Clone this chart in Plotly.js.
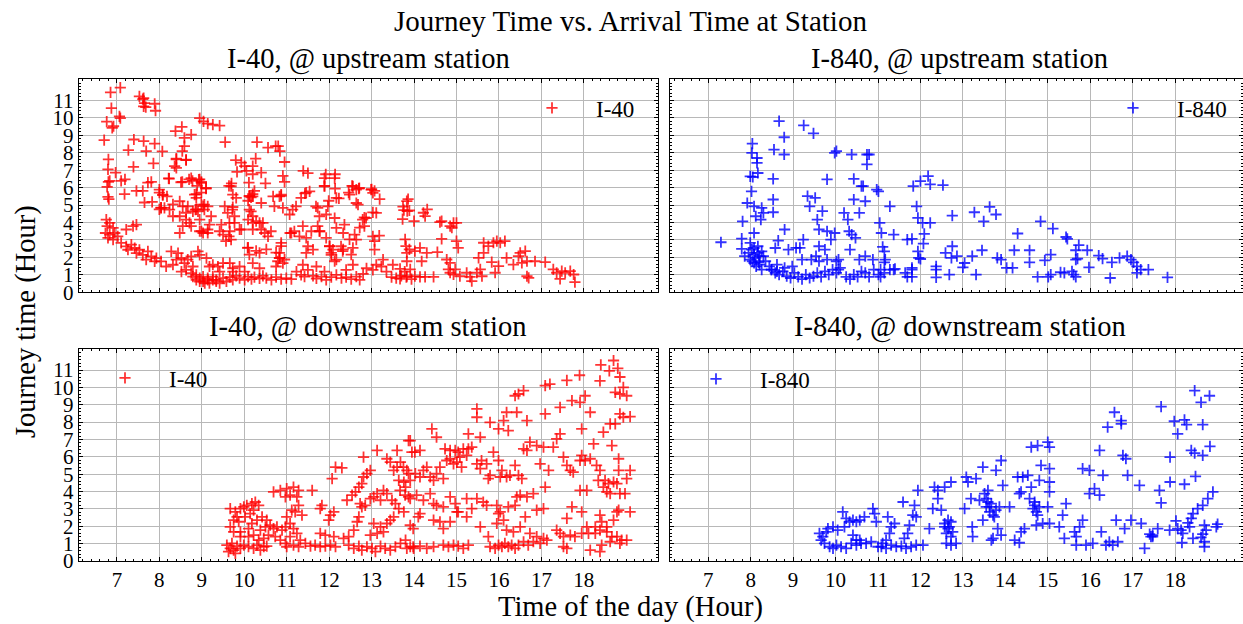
<!DOCTYPE html>
<html>
<head>
<meta charset="utf-8">
<script src="https://cdn.plot.ly/plotly-3.0.1.min.js"></script>
<style>html,body{margin:0;padding:0;background:#fff;}#chart{width:1243px;height:624px;}</style>
</head>
<body>
<div id="chart"></div>
<script>
// ---------- data: [arrival hour, journey hours] ----------
const UP_I40 = [
[7.08,11.74],[6.85,11.46],[6.87,10.56],[6.76,9.79],[6.92,9.52],[6.89,9.43],[7.06,10.09],[7.08,9.99],
[7.53,11.23],[7.61,11.08],[7.65,10.85],[7.63,10.66],[7.68,10.62],[7.89,10.81],[7.91,10.41],[7.63,11.13],
[6.7,8.72],[7.4,8.76],[7.63,8.67],[7.89,8.53],[8.07,8.08],[7.27,8.15],[7.69,8.1],
[6.8,7.62],[6.79,7.05],[6.97,6.86],[7.1,6.39],[7.18,5.63],[7.39,7.19],[7.86,7.39],[7.19,6.48],[6.8,6.33],[6.77,6.05],[6.83,6.39],[6.81,5.34],[6.79,5.47],
[7.46,5.82],[7.61,5.82],[7.73,6.29],[7.81,6.33],[7.65,5.15],[7.83,5.18],[8.0,5.72],[8.08,5.57],[8.04,4.86],
[8.38,9.24],[8.53,9.48],[8.59,8.86],[8.75,9.04],[8.59,8.38],[8.54,8.1],[8.4,7.62],[8.63,7.58],[8.36,7.24],[8.23,6.52],[8.54,6.33],[8.7,6.48],[8.78,6.39],[8.95,6.48],[8.89,6.1],[8.99,6.33],[9.1,5.95],[8.87,5.63],[8.99,5.72],
[8.95,9.99],[9.04,9.8],[9.14,9.67],[9.26,9.61],[9.42,9.56],[9.55,8.61],
[9.8,7.58],[9.93,7.43],[10.01,7.24],[10.05,6.96],[10.2,7.24],[10.27,7.66],[10.3,8.61],
[9.64,6.1],[9.7,6.25],[9.83,6.9],[10.11,6.29],[10.2,6.77],[10.4,6.86],[10.5,6.25],[10.24,5.82],[10.12,5.53],[10.16,5.44],[10.2,5.63],[10.09,5.25],
[10.56,8.29],[10.74,8.38],[10.84,8.1],[10.8,8.38],[10.95,7.47],[10.91,6.67],[10.95,6.33],[10.68,5.5],[10.87,5.53],
[11.39,6.96],[11.5,6.83],[11.43,5.67],[11.46,5.72],[11.92,6.77],[12.14,6.77],[11.89,6.1],[12.14,5.95],[11.99,5.25],[12.23,5.38],[12.54,6.1],[12.7,5.95],[12.46,5.72],[13.0,5.91],[13.07,5.82],[13.19,5.34],[13.74,4.91],[13.86,5.34],
[13.83,5.23],[13.76,4.71],[13.84,4.65],[13.89,4.69],[14.0,4.08],[14.22,4.56],[14.26,4.37],[14.31,4.75],[14.61,4.02],[14.65,4.08],[14.85,3.79],[14.93,3.98],[15.0,3.98],[14.89,3.7],[14.65,3.06],[15.0,2.93],[15.04,2.55],
[13.79,3.03],[13.83,2.26],[14.02,2.36],[14.14,2.55],[14.3,2.26],[14.55,2.3],[14.18,1.78],[13.83,1.78],
[13.67,1.34],[13.83,0.92],[14.02,0.92],[14.14,0.89],[14.26,0.89],[14.46,0.89],[13.91,1.31],[13.67,0.77],
[14.77,1.88],[14.85,1.69],[14.81,1.31],[14.97,1.31],[14.85,1.12],[14.93,1.02],[15.08,0.92],[15.24,1.12],[15.32,0.89],[15.36,0.64],[15.48,1.12],[15.6,0.92],[15.56,1.31],[15.52,1.97],[15.64,2.26],[15.83,1.73],
[15.64,2.84],[15.75,2.65],[15.87,2.84],[15.95,2.93],[16.03,2.84],[16.14,2.93],[16.18,1.97],[15.99,1.5],[15.91,1.12],
[16.34,1.59],[16.46,2.07],[16.5,2.26],[16.62,2.36],[16.54,1.69],[16.66,1.78],[16.66,0.92],[16.7,0.83],[16.85,1.78],[17.09,1.73],[17.28,1.31],[17.36,1.12],[17.48,1.21],[17.56,1.12],[17.68,1.21],[17.76,1.02],[17.79,0.58],[17.44,0.77],
[8.22,6.53],[8.4,7.66],[8.4,7.13],[8.63,7.6],[8.51,6.31],[8.75,6.55],[8.93,6.46],[8.99,6.27],[9.1,5.98],
[8.0,5.89],[8.08,5.6],[8.18,5.5],[8.12,4.84],[8.24,4.74],[8.04,4.84],[8.48,5.22],[8.55,4.93],[8.67,4.93],[8.83,5.6],[8.87,5.41],[8.99,5.03],[9.06,5.03],[8.91,4.64],
[8.32,4.36],[8.48,4.36],[8.63,4.17],[8.71,3.98],[8.55,3.79],[8.48,3.4],[8.79,4.64],[8.85,4.74],[9.06,4.74],[9.14,4.93],[9.22,4.36],[9.18,3.88],[9.14,3.6],[9.03,3.4],[8.95,3.5],
[9.54,4.93],[9.61,4.55],[9.72,4.74],[9.77,4.36],[9.65,3.98],[9.77,3.98],[9.42,3.5],[9.5,3.31],[9.64,3.21],[9.69,3.02],[9.57,2.93],
[9.69,6.08],[9.73,5.6],[9.81,5.41],[9.73,4.89],[10.12,5.5],[10.2,5.5],[10.12,4.74],[10.16,4.64],[10.4,5.12],[10.2,4.36],[10.2,3.98],[10.28,4.08],[10.44,3.98],[10.4,3.6],[10.63,3.5],[10.56,3.21],
[9.93,3.6],[10.08,2.55],[10.36,2.26],[10.12,2.16],
[10.83,5.5],[10.87,5.6],[10.71,4.93],[10.91,4.84],[11.14,4.74],[11.07,4.46],[11.22,4.93],[11.08,3.4],[11.18,3.5],[11.3,3.21],[11.46,3.12],[11.5,2.64],[11.62,2.45],[11.46,2.26],
[10.87,2.83],[10.83,2.26],[10.83,1.97],[10.79,1.78],[10.95,1.88],
[11.34,5.41],[11.54,5.79],[11.73,4.84],[11.69,4.93],[11.97,4.93],[11.93,4.46],[11.77,4.36],[12.13,4.26],[12.36,3.88],[12.17,3.69],[12.33,3.4],[11.73,3.79],[11.77,3.5],[11.93,3.12],[12.01,2.64],[12.09,2.45],[12.05,2.26],[12.13,1.78],
[11.89,6.55],[12.13,6.55],[11.89,6.08],[12.17,5.41],[12.56,6.08],[12.64,5.89],[12.48,5.6],[12.71,5.98],[12.99,5.89],[13.03,5.7],[12.64,5.12],[12.68,5.03],
[12.28,2.64],[12.32,2.36],[12.52,2.16],[12.64,3.02],[12.6,3.31],[12.56,2.55],[12.83,3.79],[12.79,4.17],[12.87,4.26],[13.03,3.21],[13.07,2.93],[13.07,2.45],[13.11,4.55],
[6.75,4.17],[6.83,3.98],[6.77,3.79],[6.91,3.69],[6.73,3.4],[6.83,3.31],[6.95,3.4],[6.79,3.12],[6.91,3.02],[7.02,3.21],
[7.22,3.6],[7.38,3.79],[7.46,3.88],[7.1,2.83],[7.22,2.63],[7.34,2.73],[7.26,2.44],[7.42,2.54],[7.53,2.44],[7.46,2.25],[7.61,2.15],[7.73,2.35],[7.81,2.06],[7.93,1.96],[7.69,1.87],[7.89,1.77],[8.04,1.77],[8.16,1.48],[8.32,1.58],[8.4,1.87],[8.28,2.35],[8.44,2.25],[8.52,1.96],[8.59,1.67],[8.63,1.29],[8.52,1.19],[8.75,1.1],[8.87,1.0],[8.95,0.81],[9.03,0.62],[9.14,0.71],[9.26,0.71],[9.34,0.62],
[8.79,1.48],[8.67,1.87],[8.75,2.06],[8.91,2.35],[8.95,2.15],[9.11,1.96],[9.26,1.58],[9.38,1.48],[9.5,1.67],[9.66,1.67],[9.73,1.38],[9.89,1.48],[10.01,1.19],
[8.0,4.75],[8.32,5.04],[8.63,4.56],[8.87,4.75],[9.03,4.94],[8.95,4.17],[8.75,3.79],[8.99,3.5],[9.14,3.4],[9.46,3.88],[9.66,3.5],[9.89,3.6],[10.09,4.17],[10.2,3.6],[10.36,3.98],[10.48,3.4],[10.09,2.56],[10.28,2.37],[10.52,2.46],[10.75,2.27],[10.87,2.65],[10.83,1.96],[11.11,3.4],[11.38,3.79],[11.58,3.5],[11.78,3.5],[12.01,2.65],[12.05,2.15],[12.17,1.87],[12.33,2.46],[12.48,3.04],[12.72,3.71],[12.83,4.29],[13.03,4.58],[13.18,3.25],[13.73,4.19],[13.81,2.65],[13.89,2.46],
[8.79,0.9],[8.87,0.71],[8.95,0.62],[9.03,0.9],[9.07,0.52],[9.14,0.81],[9.18,0.52],[9.26,0.9],[9.34,0.71],[9.42,0.52],[9.5,0.81],[9.58,0.62],[9.66,0.87],[9.73,0.71],[9.81,0.94],[9.89,0.81],[10.01,0.71],[10.09,0.9],[10.17,0.75],[10.24,0.87],[10.36,0.79],[10.44,0.94],[10.52,0.81],[10.64,0.71],[10.75,0.87],[10.87,0.75],[10.99,0.81],[11.11,0.75],[11.23,1.19],[11.34,1.0],[11.42,0.9],[11.5,1.29],[11.62,0.94],[11.7,0.79],[11.82,0.9],[11.93,0.71],[12.05,0.87],[12.17,1.0],[12.29,0.81],[12.4,0.87],[12.52,0.75],[12.64,0.9],[12.72,0.71],[12.8,1.06],[12.88,1.38],[13.03,1.29],[13.11,1.58],[13.23,1.48],[13.35,1.19],[13.47,0.87],[13.58,0.81],[13.7,0.94],[13.82,0.87],[13.94,0.75],
[9.18,1.48],[9.42,1.19],[9.73,1.19],[10.2,1.67],[10.36,1.38],[10.75,1.48],[10.91,1.67],[11.38,1.58],[11.7,1.48],[11.89,1.19],[12.4,1.29],[12.56,1.58],[13.27,1.87],[13.5,1.58],[13.78,1.19]
];

const UP_I840 = [
[7.3,2.87],[7.79,3.08],[7.79,2.49],[7.86,2.07],[7.81,4.07],[7.92,5.12],[8.02,5.79],[7.99,6.65],[8.05,6.61],[8.03,7.99],[8.04,8.53],[8.15,7.7],[8.15,7.42],[8.17,6.84],[8.55,8.18],[8.79,8.89],[8.67,9.81],[8.53,6.5],[8.53,5.32],[8.53,4.59],[8.58,2.54],[8.65,2.96],
[7.99,2.83],[8.03,2.45],[8.08,2.16],[8.12,1.97],[7.99,1.87],[8.17,2.26],[8.08,1.68],[8.21,1.59],[8.3,2.07],[8.26,2.35],[8.17,2.64],[8.35,1.78],[8.44,1.49],[8.49,1.3],[8.62,1.2],[8.08,3.4],[8.12,4.36],[8.08,4.93],[8.26,4.84],[8.3,4.55],[8.24,4.17],
[7.95,2.26],[8.04,1.78],[8.13,1.49],[8.19,1.72],[8.26,1.3],[8.08,2.54],[8.21,2.07],
[8.8,3.6],[8.89,2.45],[9.07,2.55],[9.16,2.55],[9.24,3.02],[9.34,5.51],[9.39,4.93],[9.52,5.41],[9.57,4.17],[9.61,3.6],[9.69,4.65],[9.61,2.64],[9.54,2.07],[9.61,1.78],[9.75,2.45],[9.8,3.5],[9.8,6.47],[9.89,3.02],[9.98,3.4],[10.02,1.78],[10.07,1.3],
[10.2,4.55],[10.29,4.17],[10.32,3.5],[10.34,2.45],[10.38,3.31],[10.43,5.32],[10.43,6.5],[10.47,3.12],[10.56,4.55],[10.61,6.09],[10.65,6.09],[10.7,5.22],[10.74,7.33],[10.74,7.9],[10.79,7.9],[10.97,5.89],[11.01,5.79],[11.04,3.98],[11.08,3.4],[11.11,2.6],[11.15,2.35],[11.17,1.87],[11.28,4.93],[11.37,3.31],
[11.69,3.02],[11.8,3.06],[11.83,6.09],[11.91,4.93],[11.94,4.27],[12.05,3.98],[12.09,3.35],[12.23,3.98],[12.07,2.79],[11.96,1.97],[11.8,1.4],
[10.02,8.09],[9.98,7.99],[10.38,7.9],[9.25,9.57],[9.48,9.11],[8.79,7.9],
[12.0,6.38],[12.18,6.66],[12.23,6.19],[12.53,6.15],[12.75,4.4],[13.27,4.59],[13.63,4.9],[13.78,4.46],[13.49,4.07],[14.29,3.37],[14.83,4.07],[15.12,3.65],[15.43,3.17],[15.46,3.06],[15.73,2.7],[15.93,2.41],[15.66,2.41],[15.7,1.93],
[16.2,2.1],[16.29,1.93],[16.51,1.72],[16.69,1.97],[16.87,2.07],[16.96,1.87],[17.02,1.72],[17.1,1.49],[17.19,1.3],[17.1,1.11],[17.37,1.3],[17.82,0.86],[16.47,0.82],[15.97,1.43],[15.66,1.87],
[14.76,0.88],[15.01,0.88],[15.07,1.01],[15.3,1.15],[15.39,1.11],[15.57,1.2],[15.61,1.01],[15.66,0.88],
[14.57,2.41],[14.57,1.72],[14.93,1.83],[15.07,2.16],[14.21,2.41],[14.17,1.4],[14.03,1.4],[13.9,1.87],[13.81,1.97],[13.45,2.41],[13.22,2.07],[13.04,1.68],[13.0,1.43],[13.31,1.01],[12.86,2.07],[12.75,2.64],[12.73,1.97],[12.59,2.26],[12.37,1.49],[12.37,1.3],[12.68,1.01],[12.37,0.86],[12.0,1.91],[11.94,2.35],[11.8,1.3],[11.8,0.88],[11.69,0.88],[11.64,1.11],[11.37,1.3],[11.06,0.88],[11.01,1.01],[11.15,1.11],
[8.49,1.3],[8.58,1.11],[8.67,1.01],[8.76,1.2],[8.85,0.92],[8.94,0.82],[9.03,1.11],[9.12,0.88],[9.21,0.76],[9.3,1.01],[9.39,0.82],[9.48,0.92],[9.57,1.11],[9.66,0.88],[9.75,1.2],[9.84,1.01],[9.93,1.3],[10.02,1.11],[10.11,1.4],[10.25,0.88],[10.34,0.76],[10.43,1.01],[10.52,0.88],[10.61,1.2],[10.7,1.11],[10.79,0.88],[10.9,1.3],[11.06,1.3],[11.28,1.3],[11.4,1.34],[11.15,1.72],[10.88,1.87],[10.7,2.07],[10.56,1.87],[10.07,1.87],[9.8,1.87],[9.43,1.87],[9.21,1.87],[8.98,1.49],[8.8,1.4],[8.62,1.59]
];

const DOWN_I40 = [
[9.59,0.92],[9.67,0.73],[9.75,0.63],[9.83,0.86],[9.71,1.01],[9.63,0.54],[9.79,0.44],[9.91,0.73],[9.99,0.92],[10.1,0.82],[10.22,0.73],[10.3,0.92],[10.38,0.63],[10.46,0.82],[10.53,0.86],
[9.67,1.97],[9.75,2.35],[9.83,2.54],[9.67,3.02],[9.79,2.83],[9.91,3.02],[9.99,3.12],[10.06,3.21],[10.18,3.31],[10.26,3.4],[10.34,3.21],[10.22,2.93],[10.14,2.73],[10.02,2.54],[9.87,2.26],[9.75,1.68],[9.91,1.68],[10.1,1.87],[10.18,2.16],[10.3,2.35],[10.42,2.54],[10.53,2.35],[10.5,1.97],[10.38,1.78],[10.61,2.06],[10.69,1.87],[10.77,1.97],
[9.91,1.4],[10.1,1.4],[10.22,1.49],[10.34,1.2],[10.46,1.3],[10.57,1.49],[10.73,1.4],[10.85,1.2],[10.97,1.01],[10.89,1.78],[10.97,1.97],[11.08,2.16],[11.16,1.87],[11.24,1.59],[11.08,1.4],[11.32,1.2],[11.44,1.01],[11.56,0.86],[11.67,0.92],[11.79,0.82],[11.91,0.86],[12.03,0.92],[12.15,0.82],[11.16,0.92],[11.0,0.82],[11.28,0.82],
[10.69,3.98],[10.85,4.07],[11.0,4.17],[11.16,4.26],[11.28,4.07],[11.08,3.79],[10.97,3.69],[11.24,3.69],[11.28,3.21],[11.36,2.64],[11.2,2.83],[11.12,2.93],[11.0,2.54],[11.6,4.07],[11.79,3.02],[11.83,3.21],[11.99,2.35],[12.03,2.64],[12.11,2.83],[11.79,1.59],[11.91,1.49],[12.11,1.4],[12.07,4.74],[12.15,5.41],[12.3,5.37],
[12.34,1.3],[12.46,0.92],[12.58,0.73],[12.7,0.86],[12.77,0.63],[12.89,0.82],[13.01,0.73],[13.09,0.54],[13.21,0.86],[13.32,0.73],[13.44,0.63],[13.56,0.82],[13.68,1.01],[13.8,1.2],[13.91,0.82],[13.99,0.73],
[12.46,1.4],[12.58,1.78],[12.66,2.26],[12.7,2.54],[12.77,3.12],[12.85,3.21],[12.73,3.31],[12.97,3.59],[13.05,3.69],[13.13,3.88],[13.21,3.5],[13.28,4.07],[13.36,3.88],[13.48,3.5],[13.56,3.31],[13.64,3.02],[13.76,2.83],[13.44,2.35],[13.52,2.54],[13.36,2.16],[13.21,1.97],[13.05,2.16],[12.97,1.49],[13.13,1.59],[13.28,1.68],
[12.42,3.5],[12.54,3.79],[12.62,3.98],[12.7,4.26],[12.77,4.46],[12.81,4.84],[12.89,5.03],[12.97,5.22],[12.81,5.98],[13.13,6.37],[13.36,5.89],[13.44,5.7],[13.52,5.22],[13.6,5.41],[13.68,5.7],[13.64,4.65],[13.76,4.55],[13.83,5.22],[13.91,4.65],[14.03,5.03],[13.87,6.94],[13.95,6.27],[13.6,6.37],[13.8,4.26],[13.87,3.69],
[13.91,6.94],[14.02,6.27],[14.14,6.37],[14.42,7.61],[14.53,7.13],[14.73,6.46],[14.85,6.37],[14.97,6.37],[15.04,6.27],[15.16,6.46],[15.28,6.46],[15.36,6.56],[15.28,7.32],[15.56,7.13],[15.48,8.76],[15.48,8.28],[15.79,7.99],[15.99,7.61],[16.11,8.09],[16.18,8.57],[16.22,7.51],[16.38,9.52],[16.46,9.62],[16.58,9.81],[16.42,8.57],[16.66,8.09],
[17.09,10.1],[17.2,10.19],[17.09,8.47],[17.44,8.85],[17.72,9.24],[17.91,9.14],[18.03,9.52],[18.15,8.57],[18.38,10.38],[18.74,9.71],[18.85,9.62],[18.93,10.0],[19.01,9.52],[18.85,8.47],[18.74,7.9],[18.62,7.9],[19.09,8.32],[18.93,8.28],[17.95,7.61],[18.46,7.42],[18.66,6.65],[18.82,5.89],[18.82,5.22],[19.09,5.22],[19.01,4.74],
[18.34,4.65],[18.5,4.65],[18.58,4.46],[18.7,4.55],[18.78,4.46],[18.46,4.26],[18.54,3.98],[18.62,3.88],[18.85,3.88],[18.97,3.88],[19.09,2.83],[18.82,2.93],[18.78,2.83],[18.7,2.35],[18.54,1.97],[18.38,2.64],[18.42,2.26],
[13.75,5.41],[13.87,5.03],[14.14,4.84],[14.22,5.22],[14.3,5.41],[14.38,4.84],[14.46,4.65],[14.53,5.03],[14.61,5.41],[14.69,4.74],[14.77,5.79],[14.85,5.89],[14.93,5.6],[15.01,5.7],[15.12,5.41],[15.08,5.98],[15.24,6.08],[15.48,5.6],[15.56,5.32],[15.59,5.79],[15.71,5.6],[15.75,4.74],[15.79,4.93],[15.87,6.27],[15.99,5.79],[16.03,4.84],[16.07,5.22],[16.18,4.84],[16.26,4.93],[16.38,5.51],[16.46,4.93],[16.54,4.74],[16.58,6.46],[16.66,6.37],[16.73,6.85],[16.89,6.65],[16.97,5.6],[17.05,6.56],[17.09,4.26],[17.17,5.22],[17.28,6.56],[17.36,7.04],[17.44,7.32],[17.52,5.98],[17.6,5.51],[17.68,5.22],[17.75,5.12],[17.91,5.79],[17.95,6.08],[18.03,5.79],[18.15,5.89],[18.23,6.75],[18.3,5.51],[18.38,5.22],
[13.67,4.07],[13.79,3.79],[13.91,3.59],[14.06,3.79],[14.22,3.5],[14.38,3.88],[14.46,3.31],[14.53,3.21],[14.69,3.12],[14.85,3.69],[14.97,3.31],[15.04,2.83],[15.24,3.59],[15.36,3.02],[15.48,3.59],[15.63,3.4],[15.71,3.21],[15.95,3.21],[16.03,2.83],[16.11,2.35],[16.22,3.12],[16.42,3.69],[16.5,3.79],[16.38,3.21],[16.66,3.69],[16.81,3.88],[16.89,2.93],[17.05,3.02],[17.6,2.45],[17.72,3.12],[17.95,2.83],[18.07,4.07],[17.91,4.07],[18.07,1.97],[18.27,1.97],[18.38,1.78],[18.54,1.68],[18.66,1.4],[18.78,1.4],[18.89,1.2],
[13.91,2.06],[13.98,1.87],[14.1,2.54],[14.14,2.73],[14.46,2.35],[14.61,2.26],[14.69,1.87],[14.85,2.26],[15.01,2.83],[15.24,2.54],[15.56,1.97],[15.75,1.4],[15.95,2.16],[15.99,2.73],[16.18,1.78],[16.34,1.68],[16.5,1.97],[16.62,2.54],[16.73,1.59],[16.89,1.4],[17.05,1.3],[17.36,1.78],[17.44,1.59],[17.52,1.4],[17.68,1.49],[17.79,1.4],[17.95,1.59],[18.11,1.59],[18.27,1.59],
[13.83,0.73],[13.98,0.82],[14.14,0.86],[14.3,0.73],[14.46,0.82],[14.69,0.92],[14.81,0.82],[14.93,0.92],[15.04,0.86],[15.16,0.73],[15.28,0.92],[15.79,0.82],[15.91,0.73],[15.99,0.92],[16.07,0.82],[16.14,1.01],[16.22,0.82],[16.3,0.92],[16.38,0.73],[16.46,0.92],[16.58,1.11],[16.69,0.92],[16.81,1.11],[16.97,1.01],[17.13,1.2],[17.52,0.82],[17.6,0.73],[18.15,0.63],[18.38,0.54],[18.42,0.92],[18.62,1.11],[18.85,1.01],[19.01,1.2],
[18.4,11.3],[18.7,11.55],[18.8,11.1],[18.6,10.95],[18.85,10.6],[17.9,10.7],[17.6,10.4]
];

const DOWN_I840 = [
[9.62,1.59],[9.7,1.4],[9.78,1.68],[9.66,1.2],[9.74,1.01],[9.86,0.82],[9.94,0.73],[10.02,0.92],[10.13,0.82],[10.25,0.73],[10.37,1.01],[10.49,0.92],[10.6,1.01],[10.72,1.01],[10.84,1.11],
[9.82,1.87],[9.94,1.97],[10.05,1.78],[10.17,2.83],[10.25,2.45],[10.33,2.26],[10.41,2.35],[10.49,2.26],[10.57,2.35],[10.68,2.54],[10.88,3.02],[10.92,2.73],[10.96,2.26],[10.21,1.97],[10.41,1.49],[10.49,1.2],[10.57,1.2],
[11.0,0.82],[11.11,1.01],[11.19,1.2],[11.27,1.59],[11.31,1.97],[11.39,2.16],[11.23,2.54],[11.08,0.82],[11.19,0.73],[11.31,0.92],[11.43,0.82],[11.55,0.86],[11.66,0.73],[11.78,0.82],[11.9,0.92],[12.06,0.92],
[11.62,1.3],[11.7,1.59],[11.74,2.06],[11.82,2.64],[11.86,3.21],[11.94,4.07],[11.59,3.4],[11.9,2.54],[12.21,1.87],[12.29,3.02],[12.33,4.26],[12.41,3.59],[12.49,2.93],[12.41,4.07],[12.57,4.26],[12.72,4.55],
[12.57,1.97],[12.61,1.01],[12.72,0.92],[12.84,1.01],[12.68,1.97],[12.65,2.35],[12.76,1.68],[13.04,3.02],[13.08,4.84],[13.12,4.55],[13.22,1.97],[13.19,3.59],[13.23,1.4],[13.31,4.74],[13.39,3.5],[13.47,5.41],[13.47,2.35],[13.55,3.59],[13.59,4.07],[13.63,3.12],[13.67,1.2],[13.71,1.3],[13.74,2.54],[13.78,5.22],[13.82,1.87],[13.9,5.79],[13.9,1.49],[13.94,4.36],[14.1,3.12],
[12.57,2.16],[12.65,1.87],[12.72,2.26],[12.61,1.59],[12.72,1.4],
[13.51,3.88],[13.59,3.4],[13.63,2.83],[13.71,2.64],[13.78,2.93],[13.86,3.12],[13.67,3.31],[13.55,3.12],
[14.22,1.2],[14.33,1.05],[14.37,1.68],[14.45,1.87],[14.33,3.88],[14.29,4.84],[14.41,4.84],[14.53,4.93],[14.37,3.98],[14.57,3.59],[14.61,4.26],[14.65,3.02],[14.69,3.21],[14.69,3.4],[14.73,2.83],[14.76,2.64],[14.8,4.65],[14.8,3.12],
[14.61,6.56],[14.76,6.65],[14.84,5.51],[15.0,6.85],[15.04,6.56],[15.04,5.32],[15.04,4.55],[15.04,3.98],[15.0,3.12],[15.04,2.16],[14.88,2.16],[14.73,2.06],
[15.27,1.97],[15.35,2.64],[15.39,1.3],[15.43,3.31],[15.67,1.4],[15.63,1.68],[15.67,0.92],[15.75,1.97],[15.82,2.35],[15.82,5.32],[15.9,0.92],[15.98,5.22],[16.06,1.01],[15.98,3.88],[16.1,4.17],[16.22,3.79],[16.22,6.37],[16.26,1.68],[16.3,4.93],[16.37,0.92],[16.41,7.71],[16.45,1.11],[16.53,0.92],[16.57,8.57],[16.65,1.11],[16.61,2.35],[16.73,8.09],[16.73,7.9],[16.77,6.08],[16.84,5.89],[16.81,1.87],[16.88,4.93],[16.96,2.35],[17.16,4.36],[17.2,2.16],[17.28,0.73],[17.43,1.4],[17.47,1.49],
[18.46,9.81],[18.81,9.52],[18.61,9.14],[17.67,8.89],[17.98,8.05],[18.22,8.13],[18.27,7.86],[18.06,7.32],[18.65,7.86],[18.38,6.37],[18.46,6.21],[18.65,6.08],[18.82,6.6],[17.88,5.98],[17.88,4.55],[17.63,4.07],[17.67,3.35],[18.22,4.42],[18.48,4.88],
[18.89,3.98],[18.77,3.59],[18.65,3.21],[18.53,3.02],[18.42,2.73],[18.38,2.45],[18.3,2.2],[18.34,1.97],[18.02,2.31],[18.06,1.87],[18.14,1.78],[18.18,1.59],[17.87,1.78],[17.59,1.87],[17.47,1.4],[17.4,1.55],
[18.69,2.07],[18.73,1.78],[18.65,1.55],[18.61,1.36],[18.69,1.11],[18.69,0.82],[18.42,1.3],[18.16,1.05],[18.97,1.97],[19.0,2.12]
];

const X_TICKS = [7,8,9,10,11,12,13,14,15,16,17,18];
const Y_TICKS = [0,1,2,3,4,5,6,7,8,9,10,11];

const SERIES = [
  {name:'I-40', data:UP_I40, color:'rgba(255,0,0,0.8)', xa:'x', ya:'y', legend:'legend'},
  {name:'I-840', data:UP_I840, color:'rgba(0,0,255,0.8)', xa:'x2', ya:'y2', legend:'legend2'},
  {name:'I-40', data:DOWN_I40, color:'rgba(255,0,0,0.8)', xa:'x3', ya:'y3', legend:'legend3'},
  {name:'I-840', data:DOWN_I840, color:'rgba(0,0,255,0.8)', xa:'x4', ya:'y4', legend:'legend4'}
];

const FONT = 'Liberation Serif';
const W = 1243, H = 624;

const traces = SERIES.map(s => ({
  type:'scatter', mode:'markers', name:s.name,
  x:s.data.map(p=>p[0]), y:s.data.map(p=>p[1]),
  xaxis:s.xa, yaxis:s.ya, legend:s.legend,
  marker:{symbol:'cross-thin', size:8, color:s.color, line:{width:1.8, color:s.color}}
}));

function px(x){return x/W;}
function py(y){return 1 - y/H;}

function xAxis(d0,d1,anchor,labels,range){
  return {domain:[px(d0),Math.min(1,px(d1))], anchor:anchor, range:range, tickmode:'array', tickvals:X_TICKS,
    ticktext:X_TICKS.map(String), showticklabels:labels, ticks:'inside', ticklen:4, tickwidth:1, tickcolor:'#000',
    mirror:'allticks', showline:true, linecolor:'#000', linewidth:1, showgrid:true, gridcolor:'#b8b8b8', gridwidth:1,
    zeroline:false, tickfont:{family:FONT,size:21,color:'#000'},
    minor:{tick0:0, dtick:0.2, ticks:'inside', ticklen:2, tickcolor:'#000', showgrid:false}};
}
function yAxis(d0,d1,anchor,labels){
  return {domain:[py(d1),py(d0)], anchor:anchor, range:[0,12.23], tickmode:'array', tickvals:Y_TICKS,
    ticktext:Y_TICKS.map(String), showticklabels:labels, ticks:'inside', ticklen:4, tickwidth:1, tickcolor:'#000',
    mirror:'allticks', showline:true, linecolor:'#000', linewidth:1, showgrid:true, gridcolor:'#b8b8b8', gridwidth:1,
    zeroline:false, tickfont:{family:FONT,size:21,color:'#000'},
    minor:{tick0:0, dtick:0.2, ticks:'inside', ticklen:2, tickcolor:'#000', showgrid:false}};
}

const L = 78.7, R1 = 657.7, L2 = 670, R2 = 1249.7;
const T1 = 79, B1 = 292.3, T2 = 348.7, B2 = 561;
const rangeL = [6.1, 19.74];
const rangeR = [6.1, 6.1 + (W - L2) / (R1 - L) * (rangeL[1]-rangeL[0])];

function leg(xp, yp){
  return {x:px(xp), y:py(yp), xanchor:'left', yanchor:'middle', bgcolor:'rgba(0,0,0,0)', borderwidth:0,
    font:{family:FONT,size:23,color:'#000'}, itemwidth:78};
}

const ann = (text,xp,yp,size,extra) => Object.assign({text:text, x:px(xp), y:py(yp), xref:'paper', yref:'paper',
  xanchor:'center', yanchor:'middle', showarrow:false, font:{family:FONT,size:size,color:'#000'}}, extra||{});

const layout = {
  width:W, height:H, margin:{l:0,r:0,t:0,b:0}, paper_bgcolor:'#fff', plot_bgcolor:'#fff', showlegend:true,
  xaxis: xAxis(L,R1,'y',false,rangeL),
  yaxis: yAxis(T1,B1,'x',true),
  xaxis2: xAxis(L2,R2,'y2',false,rangeR),
  yaxis2: yAxis(T1,B1,'x2',false),
  xaxis3: xAxis(L,R1,'y3',true,rangeL),
  yaxis3: yAxis(T2,B2,'x3',true),
  xaxis4: xAxis(L2,R2,'y4',true,rangeR),
  yaxis4: yAxis(T2,B2,'x4',false),
  legend: leg(508,108),
  legend2: leg(1089,108),
  legend3: leg(81,378),
  legend4: leg(672,379),
  annotations:[
    ann('Journey Time vs. Arrival Time at Station',630,21,29),
    ann('I-40, @ upstream station',(L+R1)/2,59,28.5),
    ann('I-840, @ upstream station',(L2+R2)/2,59,28.5),
    ann('I-40, @ downstream station',(L+R1)/2,327,28.5),
    ann('I-840, @ downstream station',(L2+R2)/2,327,28.5),
    ann('Time of the day (Hour)',630,607,28.5),
    ann('Journey time (Hour)',26,322,28.5,{textangle:-90})
  ]
};

Plotly.newPlot('chart', traces, layout, {staticPlot:true, displayModeBar:false});
</script>
</body>
</html>
